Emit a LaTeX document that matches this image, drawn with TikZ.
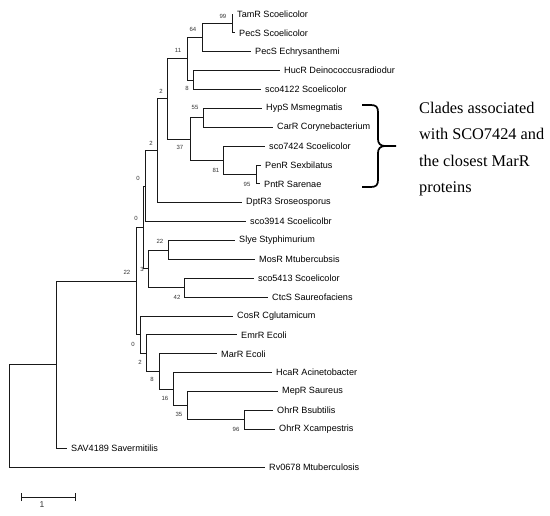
\documentclass[tikz,border=0pt]{standalone}
\usepackage{fontspec}
\setmainfont{Liberation Serif}
\newfontfamily\treefont{Liberation Sans}
\begin{document}
\begin{tikzpicture}[x=1pt,y=-1pt,
  leaf/.style={anchor=west, inner xsep=4pt, inner ysep=0pt, font=\treefont\fontsize{9.1}{10}\selectfont, text=black},
  bs/.style={font=\treefont\fontsize{6}{7}\selectfont, inner sep=0pt, text=black!80},
  branch/.style={line width=0.9pt, draw=black!90},
  bracestyle/.style={line width=1.7pt, draw=black},
  clade/.style={anchor=north west, inner sep=0pt, align=left, font=\fontsize{16.3}{26.4}\selectfont, text=black}]
\useasboundingbox (0,0) rectangle (550,516);
% internal nodes
\coordinate (root) at (9,415.8);
\coordinate (nA) at (56,364.6);
\coordinate (nB) at (136,281);
\coordinate (n0b) at (143,227.5);
\coordinate (n0a) at (145,186.2);
\coordinate (n2b) at (157,150.8);
\coordinate (n2a) at (167,98.9);
\coordinate (n11) at (187,58.8);
\coordinate (n64) at (202,37.6);
\coordinate (n99) at (232,23.4);
\coordinate (n8) at (193,80);
\coordinate (n37) at (190,139);
\coordinate (n55) at (203,117.8);
\coordinate (n81) at (223,160.3);
\coordinate (n95) at (256,174.4);
\coordinate (n3) at (148,268.8);
\coordinate (n22s) at (168,250);
\coordinate (n42) at (184,287.7);
\coordinate (n0c) at (140,334.6);
\coordinate (n2c) at (146,353.2);
\coordinate (n8b) at (159,371.4);
\coordinate (n16) at (173,389.1);
\coordinate (n35) at (187,405.7);
\coordinate (n96) at (244,419.8);
% leaves
\node[leaf] (tamR) at (233,14) {TamR Scoelicolor};
\node[leaf] (pecS) at (235,32.9) {PecS Scoelicolor};
\node[leaf] (pecSE) at (251,51.75) {PecS Echrysanthemi};
\node[leaf] (hucR) at (280,70.6) {HucR Deinococcusradiodur};
\node[leaf] (sco4122) at (261,89.5) {sco4122 Scoelicolor};
\node[leaf] (hypS) at (262,108.4) {HypS Msmegmatis};
\node[leaf] (carR) at (273,127.25) {CarR Corynebacterium};
\node[leaf] (sco7424) at (265,146.1) {sco7424 Scoelicolor};
\node[leaf] (penR) at (261,165) {PenR Sexbilatus};
\node[leaf] (pntR) at (260,183.9) {PntR Sarenae};
\node[leaf] (dptR3) at (242,202.75) {DptR3 Sroseosporus};
\node[leaf] (sco3914) at (246,221.6) {sco3914 Scoelicolbr};
\node[leaf] (slye) at (235,240.5) {Slye Styphimurium};
\node[leaf] (mosR) at (255,259.4) {MosR Mtubercubsis};
\node[leaf] (sco5413) at (254,278.25) {sco5413 Scoelicolor};
\node[leaf] (ctcS) at (268,297.1) {CtcS Saureofaciens};
\node[leaf] (cosR) at (233,316) {CosR Cglutamicum};
\node[leaf] (emrR) at (237,334.9) {EmrR Ecoli};
\node[leaf] (marR) at (217,353.75) {MarR Ecoli};
\node[leaf] (hcaR) at (272,372.6) {HcaR Acinetobacter};
\node[leaf] (mepR) at (278,391.5) {MepR Saureus};
\node[leaf] (ohrB) at (273,410.4) {OhrR Bsubtilis};
\node[leaf] (ohrX) at (275,429.25) {OhrR Xcampestris};
\node[leaf] (sav) at (67,448.1) {SAV4189 Savermitilis};
\node[leaf] (rv) at (265,467) {Rv0678 Mtuberculosis};
% internal edges
\foreach \p/\c in {root/nA, nA/nB, nB/n0b, nB/n0c, n0b/n0a, n0b/n3, n0a/n2b,
  n2b/n2a, n2a/n11, n2a/n37, n11/n64, n11/n8, n64/n99, n37/n55, n37/n81,
  n81/n95, n3/n22s, n3/n42, n0c/n2c, n2c/n8b, n8b/n16, n16/n35, n35/n96}
  \draw[branch] (\p) |- (\c);
% leaf edges
\foreach \p/\c in {root/rv, nA/sav, n0a/sco3914, n2b/dptR3, n64/pecSE,
  n99/tamR, n99/pecS, n8/hucR, n8/sco4122, n55/hypS, n55/carR,
  n81/sco7424, n95/penR, n95/pntR, n22s/slye, n22s/mosR, n42/sco5413,
  n42/ctcS, n0c/cosR, n2c/emrR, n8b/marR, n16/hcaR, n35/mepR,
  n96/ohrB, n96/ohrX}
  \draw[branch] (\p) |- (\c.west);
% bootstrap values
\node[bs] (b99) at (223,16) {99};
\node[bs] (b64) at (193,29) {64};
\node[bs] (b11) at (178,50) {11};
\node[bs] (b8) at (187,88) {8};
\node[bs] (b2a) at (161,91) {2};
\node[bs] (b55) at (195,107) {55};
\node[bs] (b37) at (180,147) {37};
\node[bs] (b81) at (216,170) {81};
\node[bs] (b95) at (247,184) {95};
\node[bs] (b2b) at (151,143) {2};
\node[bs] (b0a) at (138,178) {0};
\node[bs] (b0b) at (136,218) {0};
\node[bs] (b22s) at (160,241) {22};
\node[bs] (b3) at (142,269) {3};
\node[bs] (b42) at (177,297) {42};
\node[bs] (b22) at (127,272) {22};
\node[bs] (b0c) at (133,344) {0};
\node[bs] (b2c) at (140,362) {2};
\node[bs] (b8b) at (152,379) {8};
\node[bs] (b16) at (165,398) {16};
\node[bs] (b35) at (179,414) {35};
\node[bs] (b96) at (236,429) {96};
% brace
\draw[bracestyle] (362,105) -- (371,105) .. controls (376,105) and (378,107) .. (378,112)
  -- (378,139) .. controls (378,143) and (380,146) .. (385,146) -- (396,146);
\draw[bracestyle] (362,187) -- (371,187) .. controls (376,187) and (378,185) .. (378,180)
  -- (378,153) .. controls (378,149) and (380,146) .. (385,146);
\node[clade] (clades) at (419,102) {Clades associated\\with SCO7424 and\\the closest MarR\\proteins};
% scale bar
\coordinate (sbL) at (21,497);
\coordinate (sbR) at (75,497);
\draw[branch] (sbL) -- (sbR);
\draw[branch] ([yshift=-4pt]sbL) -- ([yshift=4pt]sbL);
\draw[branch] ([yshift=-4pt]sbR) -- ([yshift=4pt]sbR);
\node[bs, font=\treefont\fontsize{8.5}{9}\selectfont] (sblabel) at (42,505) {1};
\end{tikzpicture}
\end{document}
